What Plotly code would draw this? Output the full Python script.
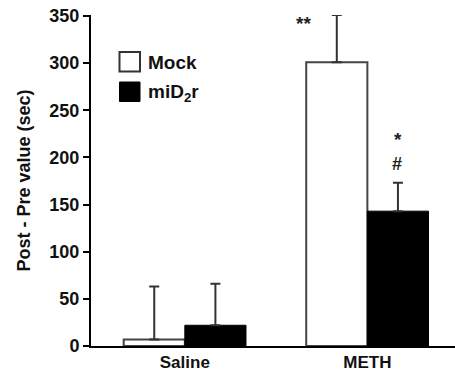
import plotly.graph_objects as go

categories = ["Saline", "METH"]
mock_values = [7, 301]
mock_err = [56, 50]
mid2r_values = [22, 143]
mid2r_err = [44, 30]
y_ticks = [0, 50, 100, 150, 200, 250, 300, 350]

FONT = "Liberation Sans, Arial, sans-serif"

fig = go.Figure()
fig.add_trace(go.Bar(
    x=categories, y=mock_values, name="Mock",
    marker=dict(color="white", line=dict(color="#444444", width=2)),
    error_y=dict(type="data", array=mock_err, arrayminus=[0, 0], symmetric=False,
                 color="#333333", thickness=2, width=5),
))
fig.add_trace(go.Bar(
    x=categories, y=mid2r_values, name="miD<sub>2</sub>r",
    marker=dict(color="black", line=dict(color="black", width=1)),
    error_y=dict(type="data", array=mid2r_err, arrayminus=[0, 0], symmetric=False,
                 color="#333333", thickness=2, width=5),
))

W, H = 455, 384
L, R, T, B = 91, 0, 15, 38
pw, ph = W - L - R, H - T - B

def px_x(p):
    return (p - L) / pw

def px_y(p):
    return (H - B - p) / ph

shapes = [
    dict(type="rect", xref="paper", yref="paper",
         x0=px_x(119.5), x1=px_x(140), y0=px_y(71.5), y1=px_y(52),
         fillcolor="white", line=dict(color="#333333", width=2)),
    dict(type="rect", xref="paper", yref="paper",
         x0=px_x(119.5), x1=px_x(140), y0=px_y(101.5), y1=px_y(82),
         fillcolor="black", line=dict(color="black", width=1)),
]
ann_font = dict(size=19, family=FONT, color="#111111")
star_font = dict(size=19, family=FONT, color="#222222")
annotations = [
    dict(text="<b>Mock</b>", xref="paper", yref="paper", x=px_x(146), y=px_y(62),
         xanchor="left", yanchor="middle", showarrow=False, font=ann_font),
    dict(text="<b>miD<sub>2</sub>r</b>", xref="paper", yref="paper", x=px_x(146), y=px_y(93),
         xanchor="left", yanchor="middle", showarrow=False, font=ann_font),
    dict(text="<b>**</b>", xref="paper", yref="paper", x=px_x(303), y=px_y(23),
         xanchor="center", yanchor="middle", showarrow=False, font=star_font),
    dict(text="<b>*</b>", xref="paper", yref="paper", x=px_x(398), y=px_y(139),
         xanchor="center", yanchor="middle", showarrow=False, font=star_font),
    dict(text="<b>#</b>", xref="paper", yref="paper", x=px_x(397), y=px_y(164),
         xanchor="center", yanchor="middle", showarrow=False, font=dict(size=18, family=FONT, color="#222222")),
]

fig.update_layout(
    width=W, height=H,
    margin=dict(l=L, r=R, t=T, b=B, pad=0),
    plot_bgcolor="white", paper_bgcolor="white",
    barmode="group", bargap=0.33, bargroupgap=0,
    showlegend=False,
    shapes=shapes, annotations=annotations,
    font=dict(family=FONT, color="black"),
    xaxis=dict(range=[-0.514, 1.48], showline=True, linecolor="black", linewidth=2,
               ticks="", showgrid=False, zeroline=False, automargin=False,
               tickfont=dict(size=17, family=FONT, color="#111111"),
               tickvals=categories, ticktext=["<b>Saline</b>", "<b>METH</b>"]),
    yaxis=dict(range=[0, 351], showline=True, linecolor="black", linewidth=2,
               ticks="outside", ticklen=6, tickwidth=2, tickcolor="black",
               tickvals=y_ticks, ticktext=[f"<b>{v}</b>" for v in y_ticks],
               ticklabeloverflow="allow",
               showgrid=False, zeroline=False, automargin=False,
               tickfont=dict(size=18, family=FONT, color="#111111"),
               title=dict(text="<b>Post - Pre value (sec)</b>", standoff=14,
                          font=dict(size=18, family=FONT, color="#111111"))),
)

fig.write_html("out.html", config={"displayModeBar": False, "staticPlot": True},
               post_script="document.body.style.margin='0';")
